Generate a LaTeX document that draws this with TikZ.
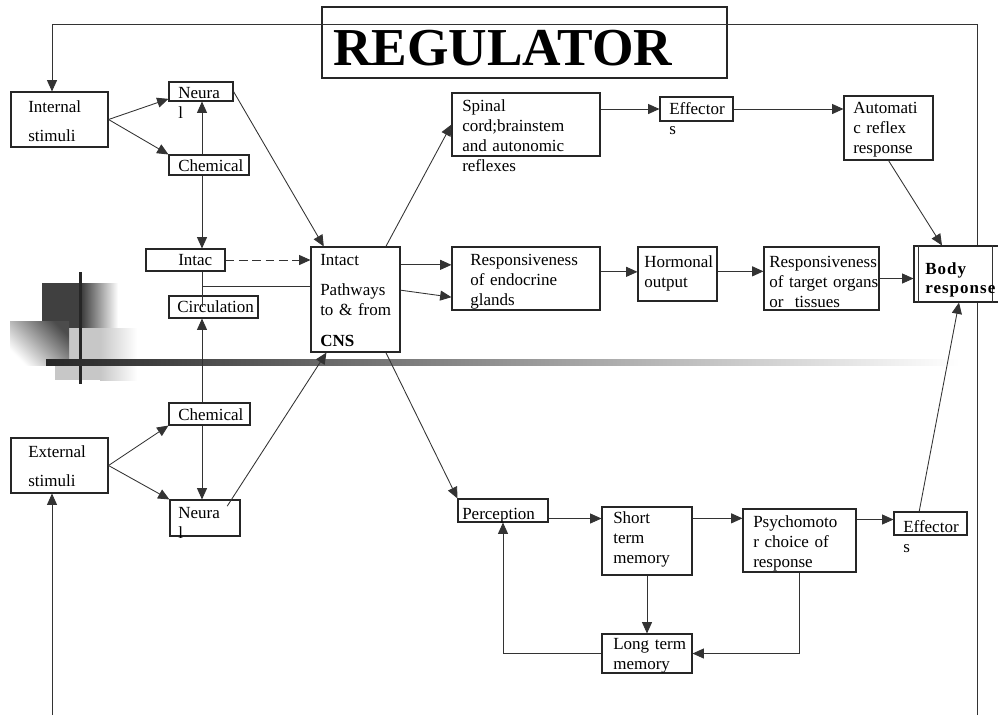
\documentclass[tikz,border=0pt]{standalone}
\usepackage{fontspec}
\setmainfont{Liberation Serif}
\usepackage{tikz}
\usetikzlibrary{positioning,calc,arrows.meta,fit}
\tikzstyle{line} = [draw=black!80, line width=0.65pt]
\tikzstyle{arrow} = [line, -{Triangle[length=8.5pt,width=7.5pt]}]
\tikzstyle{box} = [draw=black!85, line width=0.8pt, inner sep=0pt, rectangle]
\tikzstyle{txt} = [inner sep=0pt, anchor=base west, align=left, text width=4cm, font=\fontsize{12.75}{15}\selectfont]

\begin{document}
\begin{tikzpicture}[x=0.75pt,y=-0.75pt]
\useasboundingbox (0,0) rectangle (998,715);
% background bars
\fill[black!75] (42,283) rectangle (82,328);
\shade[left color=black!75, right color=white] (82,283) rectangle (118,328);
\fill[black!22] (55,328) rectangle (100,380);
\shade[left color=black!22, right color=white] (100,328) rectangle (137,380);
\shade[top color=black!70, bottom color=white, shading angle=-45] (10,321) rectangle (69,365);
\fill[black!85] (79,272) rectangle (82,384);
\shade[left color=black!85, middle color=black!50, right color=white] (46,359) rectangle (960,365);

% boxes
\node[box, fit={(322,7) (727,78)}] (title) {};
\node[box, fit={(11,92) (108,147)}] (internal) {};
\node[box, fit={(169,82) (233,101)}] (neuralA) {};
\node[box, fit={(169,155) (249,175)}] (chemA) {};
\node[box, fit={(146,249) (225,271)}] (intac) {};
\node[box, fit={(169,296) (258,318)}] (circ) {};
\node[box, fit={(169,403) (250,425)}] (chemB) {};
\node[box, fit={(11,438) (108,493)}] (external) {};
\node[box, fit={(170,500) (240,536)}] (neuralB) {};
\node[box, fit={(311,247) (400,352)}] (cns) {};
\node[box, fit={(452,93) (600,156)}] (spinal) {};
\node[box, fit={(660,97) (733,121)}] (effA) {};
\node[box, fit={(844,96) (933,160)}] (auto) {};
\node[box, fit={(452,247) (600,310)}] (endo) {};
\node[box, fit={(638,247) (717,301)}] (horm) {};
\node[box, fit={(764,247) (879,310)}] (target) {};
\node[box, fill=white, fit={(914,246) (1004,302)}] (body) {};
\node[box, fit={(458,499) (548,522)}] (perc) {};
\node[box, fit={(602,507) (692,575)}] (short) {};
\node[box, fit={(743,509) (856,572)}] (psycho) {};
\node[box, fit={(894,512) (967,535)}] (effB) {};
\node[box, fit={(602,634) (692,673)}] (long) {};
\path[line] ([xshift=3.75pt]body.north west) -- ([xshift=3.75pt]body.south west);
\path[line] ([xshift=-9pt]body.north east) -- ([xshift=-9pt]body.south east);

% texts
\node[txt, text width=10cm, font=\fontsize{40}{48}\selectfont\bfseries] (tTitle) at (333,65) {REGULATOR};
\node[txt] (tInternal) at (28,112) {Internal\\[7pt]stimuli};
\node[txt] (tNeuralA) at (178,98) {Neura\\l};
\node[txt] (tChemA) at (178,171) {Chemical};
\node[txt] (tIntac) at (178,265) {Intac};
\node[txt] (tCirc) at (177,312) {Circulation};
\node[txt] (tChemB) at (178,420) {Chemical};
\node[txt] (tExternal) at (28,457) {External\\[7pt]stimuli};
\node[txt] (tNeuralB) at (178,518) {Neura\\l};
\node[txt] (tCns) at (320,265) {Intact\\[8pt]Pathways\\to \& from\\[8pt]\textbf{CNS}};
\node[txt] (tSpinal) at (462,111) {Spinal\\cord;brainstem\\and autonomic\\reflexes};
\node[txt] (tEffA) at (669,114) {Effector\\s};
\node[txt] (tAuto) at (853,113) {Automati\\c reflex\\response};
\node[txt] (tEndo) at (470,265) {Responsiveness\\of endocrine\\glands};
\node[txt] (tHorm) at (644,267) {Hormonal\\output};
\node[txt] (tTarget) at (769,267) {Responsiveness\\of target organs\\or\ \ tissues};
\node[txt, font=\fontsize{12.75}{14.3}\selectfont\bfseries\addfontfeatures{LetterSpace=6}] (tBody) at (925,274) {Body\\response};
\node[txt] (tPerc) at (462,519) {Perception};
\node[txt] (tShort) at (613,523) {Short\\term\\memory};
\node[txt] (tPsycho) at (753,527) {Psychomoto\\r choice of\\response};
\node[txt] (tEffB) at (903,532) {Effector\\s};
\node[txt] (tLong) at (613,649) {Long term\\memory};

% frame
\coordinate (col) at (202,0);
\coordinate (tie) at (202,286);
\coordinate (frameTL) at (52,24);
\coordinate (frameTR) at (977,24);
\coordinate (frameBR) at (977,715);
\coordinate (frameBL) at (52,715);
\path[line] (frameBR) -- (frameBR |- body.south);
\path[line] (frameTR |- body.north) -- (frameTR) -- (frameTL);
\path[arrow] (frameTL) -- (frameTL |- internal.north);
\path[arrow] (frameBL) -- (frameBL |- external.south);

% left side
\path[arrow] (internal.east) -- ([yshift=2pt]neuralA.south west);
\path[arrow] (internal.east) -- (chemA.north west);
\path[arrow] (chemA.north -| col) -- (neuralA.south -| col);
\path[arrow] (chemA.south -| col) -- (intac.north -| col);
\path[arrow, dash pattern=on 6.5pt off 3.5pt] (intac.east) -- (intac.east -| cns.west);
\path[line] (intac.south -| col) -- (col |- circ.center);
\path[line] (tie) -- (tie -| cns.west);
\path[arrow] (chemB.north -| col) -- (circ.south -| col);
\path[arrow] (chemB.south -| col) -- (neuralB.north -| col);
\path[arrow] (external.east) -- (chemB.south west);
\path[arrow] (external.east) -- (neuralB.north west);
\path[arrow] ([xshift=-10pt,yshift=-5pt]neuralB.north east) -- ([xshift=12pt]cns.south west);
\path[arrow] (neuralA.east) -- ([xshift=10pt]cns.north west);

% reflex row
\path[arrow] ([xshift=-11pt]cns.north east) -- (spinal.west);
\path[arrow] (spinal.east |- effA.west) -- (effA.west);
\path[arrow] (effA.east) -- (effA.east -| auto.west);
\path[arrow] (auto.south) -- ([xshift=-12.75pt]body.north);

% hormonal row
\path[arrow] ([yshift=26pt]cns.east) -- ([yshift=26pt]cns.east -| endo.west);
\path[arrow] ([yshift=7pt]cns.east) -- ([yshift=-14pt]endo.west);
\path[arrow] ([yshift=5pt]endo.east) -- ([yshift=5pt]endo.east -| horm.west);
\path[arrow] ([yshift=2pt]horm.east) -- ([yshift=2pt]horm.east -| target.west);
\path[arrow] (target.east) -- (target.east -| body.west);

% perception row
\path[arrow] ([xshift=-11pt]cns.south east) -- (perc.north west);
\path[arrow] ([yshift=-6pt]perc.east) -- ([yshift=-6pt]perc.east -| short.west);
\path[arrow] ([yshift=17pt]short.east) -- ([yshift=17pt]short.east -| psycho.west);
\path[arrow] ([yshift=3pt]effB.west -| psycho.east) -- ([yshift=3pt]effB.west);
\path[arrow] ([xshift=-8.5pt]effB.north) -- (body.south);
\path[arrow] (short.south) -- (long.north);
\path[arrow] (psycho.south) |- (long.east);
\path[arrow] (long.west) -| (perc.south);
\end{tikzpicture}
\end{document}
